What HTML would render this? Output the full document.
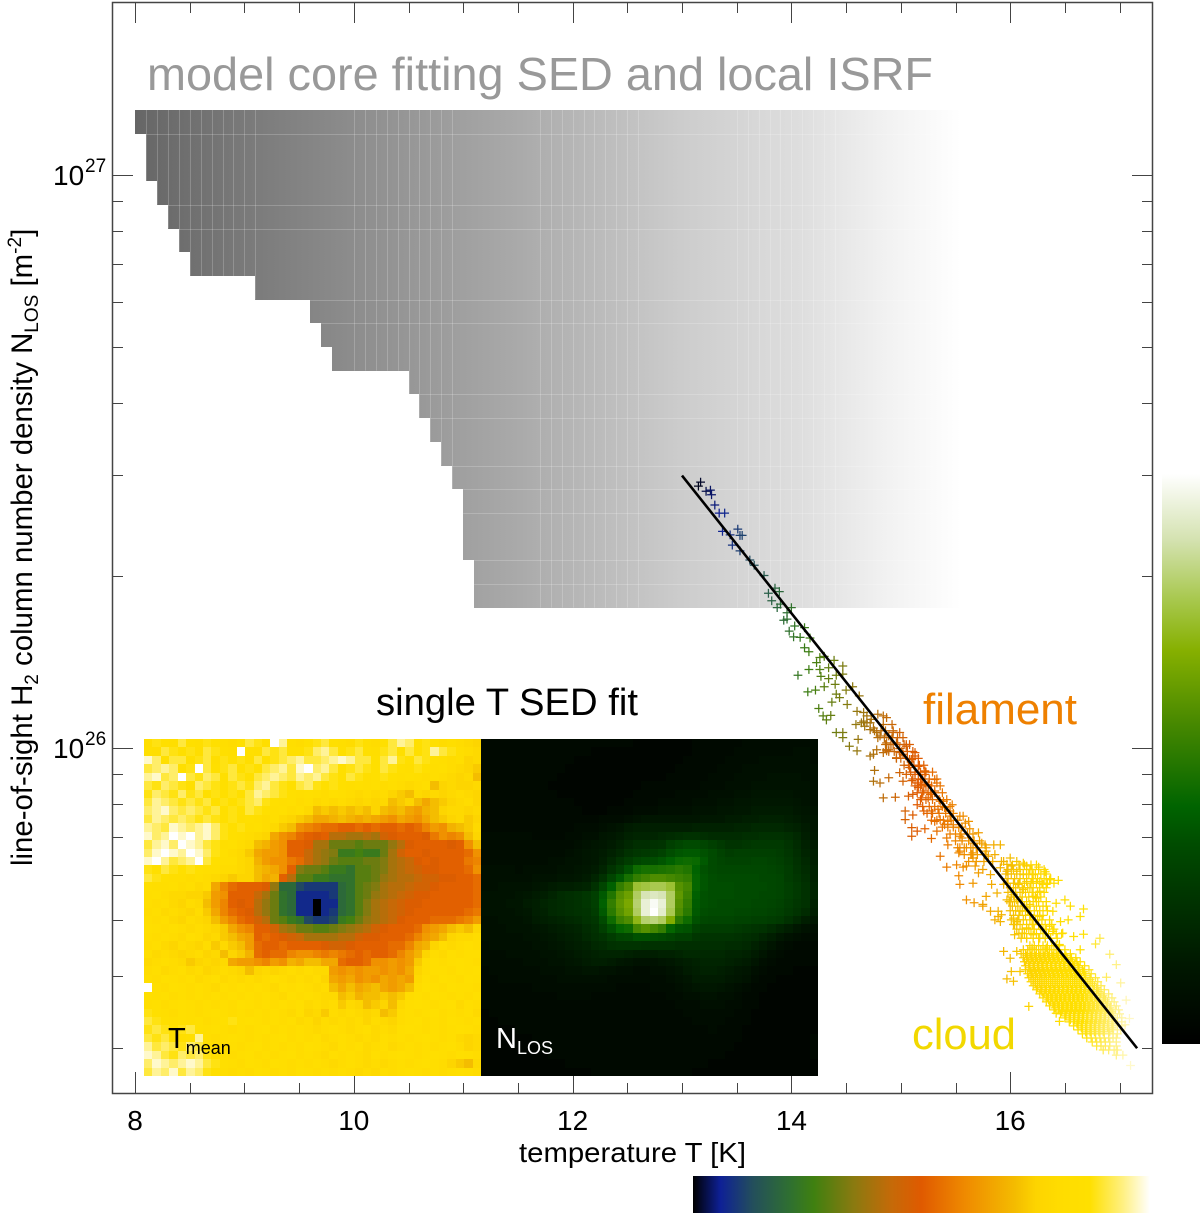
<!DOCTYPE html>
<html lang="en">
<head>
<meta charset="utf-8">
<title>Line-of-sight column density vs temperature</title>
<style>
html,body{margin:0;padding:0;background:#fff;}
svg{display:block;font-family:"Liberation Sans",Arial,sans-serif;}
</style>
</head>
<body>
<svg id="chart" width="1200" height="1215" viewBox="0 0 1200 1215" xmlns="http://www.w3.org/2000/svg">
  <defs id="defs">
    <linearGradient id="gray-ramp" gradientUnits="userSpaceOnUse" y1="0" y2="0"></linearGradient>
    <linearGradient id="t-ramp" x1="0" x2="1" y1="0" y2="0"></linearGradient>
    <linearGradient id="n-ramp" x1="0" x2="0" y1="1" y2="0"></linearGradient>
  </defs>
  <rect x="0" y="0" width="1200" height="1215" fill="#fff"/>
  <g id="model-grid"></g>
  <g id="seams"></g>
  <g id="axes"></g>
  <g id="points"></g>
  <g id="fit"></g>
  <g id="tmap"></g>
  <g id="nmap"></g>

  <text x="147" y="90" font-size="46.8" fill="#999" textLength="786" lengthAdjust="spacingAndGlyphs">model core fitting SED and local ISRF</text>
  <text x="376" y="715" font-size="38" fill="#000" textLength="262" lengthAdjust="spacingAndGlyphs">single T SED fit</text>
  <text x="923" y="724" font-size="44" fill="#ee8000" textLength="154" lengthAdjust="spacingAndGlyphs">filament</text>
  <text x="912" y="1049" font-size="44" fill="#f2d800" textLength="104" lengthAdjust="spacingAndGlyphs">cloud</text>
  <text x="168" y="1048" font-size="29" fill="#000">T<tspan font-size="18" dy="6">mean</tspan></text>
  <text x="496" y="1048" font-size="29" fill="#fff">N<tspan font-size="18" dy="6">LOS</tspan></text>
  <text x="519" y="1162" font-size="28" fill="#000" textLength="227" lengthAdjust="spacingAndGlyphs">temperature T [K]</text>
  <text transform="translate(32,866) rotate(-90)" font-size="29.4" fill="#000">line-of-sight H<tspan font-size="19" dy="6">2</tspan><tspan dy="-6"> column number density N</tspan><tspan font-size="19" dy="6">LOS</tspan><tspan dy="-6"> [m</tspan><tspan font-size="19" dy="-11">-2</tspan><tspan dy="11">]</tspan></text>

  <rect x="693" y="1176" width="457" height="37" fill="url(#t-ramp)"/>
  <rect x="1162" y="474" width="38" height="570" fill="url(#n-ramp)"/>
</svg>

<script>
const SVGNS = 'http://www.w3.org/2000/svg';

// Axis ticks
const xMajorTicks = [8, 10, 12, 14, 16];
const xTickLabels = ['8', '10', '12', '14', '16'];
const xMinorTicks = [8.5, 9, 9.5, 10.5, 11, 11.5, 12.5, 13, 13.5, 14.5, 15, 15.5, 16.5, 17];
const yMajorExponents = [27, 26];
const yMinorValues = [9e26, 8e26, 7e26, 6e26, 5e26, 4e26, 3e26, 2e26, 9e25, 8e25, 7e25, 6e25, 5e25, 4e25, 3e25];

// Model grid: row edges in log10(N), and lowest temperature populated in each row
const gridEdgesLogN = [27.1134, 27.0721, 27.0307, 26.9893, 26.9480, 26.9066, 26.8653, 26.8239, 26.7825, 26.7412, 26.6998, 26.6585, 26.6171, 26.5757, 26.5344, 26.4930, 26.4517, 26.4103, 26.3689, 26.3276, 26.2862, 26.2449];
const gridRowMinT = [8.0, 8.1, 8.1, 8.2, 8.3, 8.4, 8.5, 9.1, 9.6, 9.7, 9.8, 10.5, 10.6, 10.7, 10.8, 10.9, 11.0, 11.0, 11.0, 11.1, 11.1];
const gridMaxT = 15.6;
const grayRampT = [8, 11.52, 12.98, 14.1, 14.8, 15.55];
const grayRampLevel = [102, 170, 204, 222, 240, 255];
const seamT = [8.1, 8.2, 8.3, 8.4, 8.5, 8.6, 8.7, 8.8, 8.9, 9.0, 9.1, 10.0, 10.1, 10.2, 10.3, 10.4, 10.5, 10.6, 10.7, 10.8, 10.9, 11.7, 11.8, 11.9, 12.0, 12.1, 12.2, 12.3, 12.4, 12.5, 12.6, 13.5, 13.6, 13.7, 13.8, 13.9, 14.0, 14.1, 14.2, 14.3, 14.4];
const seamLogN = [27.0721, 26.9480, 26.9066, 26.7825, 26.7412, 26.6171, 26.5757, 26.4930, 26.4517, 26.4103, 26.3276, 26.2862];

// Colour scales
const tCmapPos = [0, 0.06, 0.13, 0.213, 0.264, 0.352, 0.434, 0.5, 0.595, 0.705, 0.75, 0.8, 0.868, 0.94, 1];
const tCmapColor = ['#000000', '#0e2096', '#234e5c', '#2f7030', '#3f8010', '#8a7a10', '#c56a08', '#e05a00', '#ef8a00', '#f4bc00', '#fdd400', '#ffdc00', '#ffe000', '#fff080', '#ffffff'];
const nCmapPos = [0, 0.14, 0.28, 0.35, 0.417, 0.568, 0.69, 0.78, 0.884, 1];
const nCmapColor = ['#000000', '#001800', '#003a00', '#004c00', '#006400', '#4a8a00', '#86b000', '#a8c84e', '#d4e2b0', '#ffffff'];
const tCmapMin = 13.1;
const tCmapMax = 17.2;

// Fit line
const fitT = [13.0, 17.16];
const fitLogN = [26.4755, 25.476];

// Scatter: core and dense-core part
const coreT = [13.17,13.15,13.22,13.26,13.27,13.30,13.34,13.39,13.37,13.51,
13.53,13.55,13.44,13.46,13.53,13.62,13.66,13.75,13.85,13.89,
13.79,13.82,13.87,13.90,14.00,13.96,13.93,13.96,14.03,14.12,
13.98,14.02,14.08,14.17,14.12,14.16,14.30,14.26,14.39,14.23,
14.47,14.16,14.26,14.34,14.06,14.27,14.34,14.47,14.41,14.30,
14.40,14.56,14.15,14.22,14.41,14.44,14.50,14.62,14.37,14.51,
14.25,14.36,14.29,14.32,14.60,14.69,14.72,14.79,14.87,14.59,
14.41,14.47,14.47,14.61,14.53,14.60,14.72,14.78,14.87,14.66,
14.67,14.73,14.75,14.84,14.92,14.93,14.99,14.96,15.05,14.99,
14.87,15.13,15.10,14.66,14.69,14.72,14.64,14.78,14.84,14.81,
14.89,14.89,14.84];
const coreLogN = [26.464,26.457,26.448,26.450,26.442,26.424,26.410,26.410,26.378,26.382,
26.371,26.371,26.372,26.354,26.344,26.328,26.319,26.301,26.279,26.273,
26.270,26.257,26.245,26.251,26.245,26.236,26.223,26.225,26.213,26.210,
26.204,26.194,26.193,26.192,26.175,26.168,26.160,26.158,26.153,26.149,
26.143,26.137,26.137,26.140,26.127,26.125,26.121,26.129,26.127,26.107,
26.111,26.107,26.098,26.101,26.094,26.088,26.101,26.091,26.080,26.076,
26.069,26.057,26.056,26.049,26.064,26.056,26.044,26.059,26.053,26.041,
26.027,26.027,26.018,26.015,26.003,25.995,25.986,25.997,26.009,26.047,
26.038,26.050,26.035,26.041,26.041,26.027,26.027,26.009,26.006,25.992,
25.997,25.992,25.980,26.062,26.044,26.032,26.044,26.027,26.056,26.021,
26.021,25.997,25.992];

// Scatter: filament part
const filamentT = [14.75,14.87,15.05,14.96,15.13,15.08,14.99,14.76,14.89,14.75,
14.81,15.02,15.10,14.84,14.95,15.07,15.22,15.19,15.33,15.28,
15.25,15.15,15.04,15.11,15.04,15.21,15.31,15.39,15.47,15.34,
15.43,15.57,15.62,15.10,15.22,15.15,15.10,15.33,15.28,15.42,
15.43,15.53,15.63,15.71,15.56,15.54,15.74,15.85,15.91,15.78,
15.66,15.53,15.36,15.42,15.51,15.57,15.68,15.53,15.54,15.66,
15.71,15.82,15.83,14.93,14.99,15.02,15.08,15.16,15.13,15.18,
15.22,15.16,15.21,15.27,15.31,15.25,15.31,15.22,15.36,15.40,
15.45,15.28,15.36,15.40,15.48,15.54,15.59,15.54,15.66,15.69,
15.60,15.77,15.80,15.66,15.60,15.75,15.54,15.65,15.15,15.05,
15.11,15.19,15.45,15.43,15.60,15.67,15.75];
const filamentLogN = [25.989,25.995,26.003,25.983,25.986,25.966,25.957,25.961,25.948,25.942,
25.939,25.942,25.943,25.913,25.914,25.916,25.954,25.936,25.939,25.922,
25.913,25.901,25.890,25.883,25.875,25.890,25.872,25.907,25.901,25.893,
25.872,25.881,25.872,25.861,25.859,25.855,25.846,25.855,25.842,25.843,
25.831,25.861,25.859,25.852,25.843,25.826,25.834,25.831,25.831,25.820,
25.817,25.817,25.811,25.792,25.796,25.792,25.794,25.777,25.762,25.764,
25.782,25.779,25.762,26.006,25.999,25.989,25.980,25.968,25.954,25.945,
25.939,25.931,25.925,25.919,25.925,25.936,25.945,25.960,25.907,25.896,
25.890,25.890,25.875,25.866,25.866,25.881,25.869,25.846,25.834,25.826,
25.826,25.831,25.811,25.808,25.794,25.788,25.820,25.814,25.939,25.954,
25.919,25.913,25.881,25.867,25.735,25.730,25.724];

// Scatter: dense filament body, one list of temperatures per log10(N) row
const filamentRowLogN = [26.030,26.018,26.006,25.994,25.982,25.970,25.958,25.946,25.934,25.922,25.910,25.898,25.886,25.874,25.862,25.850,25.838,25.826,25.814,25.802];
const filamentRowT = [
[14.76,14.82,14.86,14.93],
[14.79,14.85,14.92,14.97,15.02],
[14.86,14.91,14.97,15.03,15.08],
[14.89,14.94,15.01,15.06,15.11],
[14.96,15.00,15.06,15.11,15.16],
[15.03,15.07,15.12,15.17,15.21],
[15.09,15.13,15.18,15.23,15.29],
[15.11,15.16,15.20,15.26,15.33],
[15.13,15.18,15.23,15.28,15.36],
[15.15,15.20,15.25,15.31,15.38],
[15.18,15.23,15.29,15.35,15.42],
[15.20,15.26,15.31,15.38,15.45],
[15.24,15.29,15.35,15.41,15.48],
[15.28,15.33,15.39,15.46,15.52],
[15.38,15.43,15.48,15.56],
[15.45,15.50,15.55,15.61,15.66],
[15.50,15.56,15.62,15.67,15.72],
[15.52,15.58,15.64,15.70,15.78],
[15.58,15.64,15.70,15.77,15.86],
[15.62,15.69,15.76,15.84,15.92]
];

// Scatter: cloud outliers and sparse edges
const cloudT = [15.94,16.00,16.06,15.97,16.06,16.15,16.26,16.32,16.21,16.36,
16.44,16.15,16.30,16.07,15.94,15.78,15.88,16.00,15.82,15.89,
15.91,16.03,16.15,16.24,16.33,16.42,16.50,16.55,16.67,16.64,
16.53,16.46,16.36,16.15,16.03,16.04,16.15,16.27,16.48,16.58,
16.67,16.82,16.78,15.94,16.06,16.00,16.20,16.33,16.45,16.64,
16.01,15.97,16.03,16.09,16.17,16.42,16.45,15.91,15.97,16.01,
16.12,16.18,16.12,16.21,16.27,16.33,16.18,16.12,16.03,15.97,
16.06,16.21,16.27,16.18,16.09,16.18,16.27,16.39,16.06,16.21,
16.30,16.39,16.11,16.21,16.32,15.89,15.86,15.92,15.75,16.97,
17.06,17.09,17.05,16.97,17.03,17.10,16.98,17.01,16.91,16.88];
const cloudLogN = [25.802,25.808,25.802,25.785,25.785,25.794,25.792,25.784,25.779,25.770,
25.769,25.767,25.762,25.762,25.762,25.741,25.747,25.732,25.715,25.706,
25.697,25.703,25.721,25.738,25.724,25.729,25.735,25.724,25.719,25.706,
25.700,25.697,25.689,25.686,25.692,25.674,25.668,25.668,25.677,25.671,
25.675,25.668,25.658,25.645,25.645,25.633,25.651,25.651,25.657,25.648,
25.610,25.597,25.593,25.610,25.549,25.537,25.523,25.791,25.797,25.794,
25.799,25.788,25.779,25.767,25.767,25.762,25.756,25.753,25.744,25.735,
25.735,25.741,25.750,25.727,25.715,25.709,25.706,25.715,25.697,25.692,
25.683,25.680,25.677,25.674,25.668,25.715,25.700,25.709,25.727,25.622,
25.560,25.528,25.517,25.464,25.464,25.446,25.473,25.590,25.640,25.600];

// Scatter: upper cloud shoulder, one list of temperatures per log10(N) row
const shoulderRowLogN = [25.796,25.788,25.780,25.772,25.764,25.756,25.748,25.740,25.732,25.724,25.716,25.708,25.700,25.692,25.684,25.676,25.668];
const shoulderRowT = [
[16.02,16.08,16.13,16.19,16.24],
[15.98,16.03,16.09,16.15,16.20,16.26,16.31],
[15.96,16.01,16.06,16.12,16.17,16.23,16.28,16.33],
[15.98,16.04,16.09,16.15,16.20,16.25,16.31,16.37],
[15.97,16.03,16.08,16.13,16.19,16.24,16.29,16.34,16.40],
[16.00,16.05,16.11,16.16,16.21,16.27,16.33],
[15.98,16.03,16.09,16.14,16.20,16.25,16.31],
[16.01,16.06,16.11,16.17,16.23,16.28],
[15.99,16.04,16.10,16.15,16.21,16.26,16.33],
[16.02,16.07,16.13,16.18,16.24,16.30],
[16.00,16.05,16.11,16.16,16.22,16.27,16.34],
[16.03,16.08,16.14,16.19,16.25,16.30],
[16.01,16.07,16.12,16.18,16.23,16.29,16.36],
[16.04,16.09,16.15,16.20,16.26,16.32,16.38],
[16.06,16.11,16.17,16.22,16.28,16.33,16.40],
[16.08,16.13,16.19,16.24,16.30,16.35,16.42,16.47],
[16.10,16.15,16.21,16.26,16.32,16.37,16.43]
];

// Scatter: dense cloud body, one list of temperatures per log10(N) row
const blobRowLogN = [25.655,25.648,25.641,25.634,25.627,25.620,25.613,25.606,25.599,25.592,25.585,25.578,25.571,25.564,25.557,25.550,25.543,25.536,25.529,25.522,25.515,25.508,25.501,25.494,25.487,25.480,25.473];
const blobRowT = [
[16.18,16.22,16.26,16.30,16.34,16.38,16.42,16.45],
[16.12,16.16,16.20,16.24,16.28,16.32,16.36,16.40,16.44,16.50],
[16.10,16.14,16.18,16.22,16.26,16.30,16.34,16.38,16.42,16.46,16.50,16.55],
[16.12,16.16,16.20,16.24,16.28,16.32,16.36,16.40,16.44,16.48,16.52,16.56,16.60],
[16.13,16.17,16.21,16.25,16.29,16.33,16.37,16.41,16.45,16.49,16.53,16.57,16.61,16.64],
[16.14,16.18,16.22,16.26,16.30,16.34,16.38,16.42,16.46,16.50,16.54,16.58,16.62,16.68],
[16.14,16.18,16.22,16.26,16.30,16.34,16.38,16.42,16.46,16.50,16.54,16.58,16.62,16.66,16.72],
[16.16,16.20,16.24,16.28,16.32,16.36,16.40,16.44,16.48,16.52,16.56,16.60,16.64,16.68,16.74],
[16.17,16.21,16.25,16.29,16.33,16.37,16.41,16.45,16.49,16.53,16.57,16.61,16.65,16.69,16.73,16.78],
[16.19,16.23,16.27,16.31,16.35,16.39,16.43,16.47,16.51,16.55,16.59,16.63,16.67,16.71,16.75,16.80],
[16.21,16.25,16.29,16.33,16.37,16.41,16.45,16.49,16.53,16.57,16.61,16.65,16.69,16.73,16.77,16.83],
[16.24,16.28,16.32,16.36,16.40,16.44,16.48,16.52,16.56,16.60,16.64,16.68,16.72,16.76,16.80,16.86],
[16.27,16.31,16.35,16.39,16.43,16.47,16.51,16.55,16.59,16.63,16.67,16.71,16.75,16.79,16.83,16.90],
[16.30,16.34,16.38,16.42,16.46,16.50,16.54,16.58,16.62,16.66,16.70,16.74,16.78,16.82,16.86,16.93],
[16.33,16.37,16.41,16.45,16.49,16.53,16.57,16.61,16.65,16.69,16.73,16.77,16.81,16.85,16.89,16.95],
[16.36,16.40,16.44,16.48,16.52,16.56,16.60,16.64,16.68,16.72,16.76,16.80,16.84,16.88,16.92,16.97],
[16.40,16.44,16.48,16.52,16.56,16.60,16.64,16.68,16.72,16.76,16.80,16.84,16.88,16.92,16.96,16.99],
[16.46,16.50,16.54,16.58,16.62,16.66,16.70,16.74,16.78,16.82,16.86,16.90,16.94,17.00],
[16.50,16.54,16.58,16.62,16.66,16.70,16.74,16.78,16.82,16.86,16.90,16.94,16.98,17.02],
[16.54,16.58,16.62,16.66,16.70,16.74,16.78,16.82,16.86,16.90,16.94,16.98,17.02],
[16.58,16.62,16.66,16.70,16.74,16.78,16.82,16.86,16.90,16.94,16.98,17.02],
[16.62,16.66,16.70,16.74,16.78,16.82,16.86,16.90,16.94,16.98,17.01],
[16.66,16.70,16.74,16.78,16.82,16.86,16.90,16.94,16.98],
[16.70,16.74,16.78,16.82,16.86,16.90,16.94,16.97],
[16.75,16.79,16.83,16.87,16.91,16.97],
[16.79,16.83,16.87,16.91,16.97],
[16.85,16.90,16.95]
];

// Scatter: densest interior of the cloud body
const innerRowLogN = [25.6375,25.6305,25.6235,25.6165,25.6095,25.6025,25.5955,25.5885,25.5815,25.5745,25.5675,25.5605,25.5535,25.5465,25.5395,25.5325,25.5255,25.5185,25.5115,25.5045];
const innerRowT = [
[16.15,16.19,16.23,16.27,16.31,16.35,16.39,16.43,16.47,16.51],
[16.15,16.19,16.23,16.27,16.31,16.35,16.39,16.43,16.47,16.51,16.55],
[16.17,16.21,16.25,16.29,16.33,16.37,16.41,16.45,16.49,16.53,16.59],
[16.17,16.21,16.25,16.29,16.33,16.37,16.41,16.45,16.49,16.53,16.57,16.63],
[16.19,16.23,16.27,16.31,16.35,16.39,16.43,16.47,16.51,16.55,16.59,16.67],
[16.19,16.23,16.27,16.31,16.35,16.39,16.43,16.47,16.51,16.55,16.59,16.63,16.69],
[16.21,16.25,16.29,16.33,16.37,16.41,16.45,16.49,16.53,16.57,16.61,16.65,16.73],
[16.23,16.27,16.31,16.35,16.39,16.43,16.47,16.51,16.55,16.59,16.63,16.67,16.75],
[16.25,16.29,16.33,16.37,16.41,16.45,16.49,16.53,16.57,16.61,16.65,16.69,16.79],
[16.29,16.33,16.37,16.41,16.45,16.49,16.53,16.57,16.61,16.65,16.69,16.73,16.81],
[16.33,16.37,16.41,16.45,16.49,16.53,16.57,16.61,16.65,16.69,16.73,16.77,16.85],
[16.35,16.39,16.43,16.47,16.51,16.55,16.59,16.63,16.67,16.71,16.75,16.79,16.87],
[16.39,16.43,16.47,16.51,16.55,16.59,16.63,16.67,16.71,16.75,16.79,16.83,16.89],
[16.41,16.45,16.49,16.53,16.57,16.61,16.65,16.69,16.73,16.77,16.81,16.85,16.91],
[16.47,16.51,16.55,16.59,16.63,16.67,16.71,16.75,16.79,16.83,16.87,16.93],
[16.51,16.55,16.59,16.63,16.67,16.71,16.75,16.79,16.83,16.87,16.93],
[16.55,16.59,16.63,16.67,16.71,16.75,16.79,16.83,16.87,16.93],
[16.61,16.65,16.69,16.73,16.77,16.81,16.85,16.89,16.93],
[16.65,16.69,16.73,16.77,16.81,16.85,16.89,16.93],
[16.69,16.73,16.77,16.81,16.85,16.91]
];

// Mean-temperature map, in tenths of a kelvin
const tempMap = [
[165,167,166,165,168,166,165,167,166,165,164,166,168,167,165,172,170,165,164,166,167,168,166,165,164,167,165,164,166,168,170,169,166,167,166,164,165,164,163,162],
[166,165,168,167,166,167,165,168,167,166,165,172,166,165,168,167,168,166,166,167,169,170,168,166,167,168,166,165,167,168,166,168,166,167,170,168,167,165,164,163],
[171,169,166,168,168,166,167,168,165,167,166,167,165,168,166,167,168,169,170,168,168,169,170,171,170,168,168,166,168,170,167,166,168,167,166,165,164,165,162,163],
[168,169,170,169,166,167,172,168,166,167,168,166,167,166,168,169,170,168,171,172,169,170,168,166,167,168,167,166,168,167,166,165,167,166,165,166,164,163,162,161],
[170,171,168,169,172,168,167,169,168,166,168,167,166,168,169,170,169,168,170,169,170,168,167,166,168,167,165,166,167,166,165,166,165,164,165,164,163,162,163,160],
[168,167,169,168,167,166,169,168,167,166,167,168,167,169,170,168,167,166,168,169,167,166,167,166,165,166,165,166,164,165,164,163,164,165,160,162,163,162,162,163],
[167,169,168,167,169,167,168,166,167,166,167,166,168,170,169,168,167,166,165,166,165,164,166,165,164,163,164,163,164,162,161,160,163,162,163,162,163,164,163,162],
[168,170,169,168,167,168,167,168,166,167,166,167,168,169,167,166,165,166,164,165,163,164,163,164,163,162,163,162,163,160,161,162,160,158,160,161,162,163,164,162],
[169,170,171,169,168,169,168,167,168,166,167,166,168,167,166,165,166,164,165,163,160,161,160,161,160,161,160,162,160,159,160,158,157,159,160,162,163,163,162,163],
[168,170,169,168,169,168,167,168,167,166,167,165,166,165,164,165,163,162,161,160,158,158,159,160,159,158,159,158,157,156,158,157,156,158,160,161,162,163,161,162],
[170,169,168,171,170,169,170,171,169,167,166,167,165,166,164,163,161,160,156,155,154,153,153,152,152,153,152,153,152,152,153,152,153,155,157,156,159,160,161,163],
[171,169,170,172,171,172,170,171,169,167,166,165,164,163,162,158,156,155,153,152,151,152,148,148,147,147,148,147,150,151,152,152,152,151,154,156,155,156,160,162],
[168,170,171,169,172,171,170,168,167,165,166,164,163,160,159,157,156,152,152,151,147,147,144,144,144,143,144,144,144,146,148,151,152,152,152,152,151,152,156,160],
[169,171,172,171,170,172,171,169,167,166,164,163,161,158,157,157,156,152,152,149,147,146,145,141,141,142,141,141,144,147,150,152,152,151,152,152,152,152,153,156],
[171,172,170,168,169,170,172,168,166,165,165,163,162,159,157,156,156,154,153,149,147,146,144,143,143,143,144,144,145,147,148,149,151,152,151,152,152,152,154,155],
[167,166,168,167,166,167,166,165,165,164,164,163,162,160,159,158,156,152,145,144,144,143,141,141,140,143,143,144,145,147,148,149,150,151,151,152,152,152,153,156],
[168,167,166,165,165,164,165,164,163,162,161,162,162,160,158,159,152,148,143,143,141,141,140,140,140,143,143,144,146,147,148,148,149,150,150,151,151,152,152,153],
[166,165,165,166,164,165,163,164,158,155,153,152,152,152,151,146,139,139,136,135,135,135,135,139,140,143,144,145,147,148,148,149,150,150,151,152,152,152,152,153],
[165,166,164,163,163,162,162,161,157,156,152,152,152,149,147,144,140,139,134,134,134,134,135,139,140,143,144,146,147,148,149,150,151,151,152,152,152,152,152,153],
[165,164,165,163,162,164,163,160,157,155,152,151,152,148,146,144,140,139,134,134,131,134,134,139,140,143,145,147,148,149,150,151,151,152,152,152,152,152,152,153],
[164,165,163,164,163,162,164,161,158,155,153,152,151,148,146,144,140,139,134,134,131,134,135,139,140,143,145,147,148,149,150,151,152,152,152,152,152,152,153,154],
[165,164,165,163,162,164,163,162,160,157,155,153,152,150,148,144,143,141,140,136,135,135,136,141,142,144,146,147,148,149,151,152,152,152,153,153,153,154,155,157],
[166,165,164,165,164,163,164,163,162,161,158,156,155,152,152,150,147,146,144,144,143,143,144,145,146,147,148,150,151,152,152,152,153,156,157,158,160,161,160,162],
[165,164,165,164,163,165,164,162,163,161,160,158,157,152,153,152,151,150,149,147,147,147,147,148,148,150,151,151,152,152,152,153,155,157,158,160,162,163,163,164],
[164,165,163,162,164,163,162,164,161,163,161,160,157,153,152,152,153,152,152,152,152,151,150,150,151,152,152,152,152,153,153,155,158,159,162,164,163,164,165,164],
[165,163,164,163,162,163,164,162,163,160,162,161,159,153,152,153,153,155,156,156,155,154,155,154,153,152,153,152,152,153,155,157,159,162,164,163,165,164,165,165],
[163,164,165,164,163,161,162,163,162,163,158,157,157,156,155,157,156,159,158,160,160,158,158,153,152,152,153,156,156,157,156,157,161,164,165,164,165,166,165,164],
[164,165,163,164,165,163,164,162,163,164,163,162,160,162,163,162,163,164,163,164,163,163,157,156,157,156,157,157,156,157,156,158,162,164,165,165,164,166,165,166],
[165,164,166,165,164,165,163,164,165,163,164,163,164,163,164,165,164,163,164,163,164,162,158,157,158,156,157,156,158,157,158,157,163,165,164,166,165,164,166,165],
[172,165,164,166,165,164,165,164,163,165,164,165,164,165,164,163,165,164,165,164,163,164,160,158,160,158,159,160,158,157,158,160,164,166,165,164,166,165,165,164],
[166,165,166,164,165,164,165,164,165,164,165,164,165,164,165,164,163,165,164,165,164,163,163,160,161,159,160,160,161,160,161,164,165,164,166,165,164,165,164,166],
[165,166,164,165,166,165,164,165,164,165,164,166,165,164,165,164,165,164,165,163,164,163,164,161,163,162,160,161,162,160,163,165,166,165,164,165,166,163,165,164],
[167,166,165,164,166,165,164,165,166,165,164,165,164,165,164,165,164,163,165,162,163,161,164,163,164,163,162,163,160,161,164,165,164,165,166,164,165,164,165,163],
[168,167,166,165,166,165,166,164,165,166,167,165,166,165,164,165,164,165,163,164,162,164,163,164,163,164,162,164,163,162,164,165,166,164,165,164,166,165,164,165],
[167,168,167,166,167,168,166,165,166,165,164,165,164,165,166,164,165,164,165,164,163,164,165,164,163,164,165,163,164,163,165,166,165,164,165,164,165,166,165,164],
[168,167,168,166,165,166,170,165,164,165,166,165,164,165,164,165,166,164,165,164,165,163,164,165,164,163,164,163,165,164,165,164,165,166,165,164,165,163,162,163],
[170,168,169,168,167,169,168,166,165,164,165,164,165,166,164,165,164,165,164,166,165,164,163,165,164,165,163,164,165,163,164,165,164,165,164,165,166,164,162,163],
[171,170,168,167,169,168,169,167,165,166,164,165,166,164,165,164,165,166,164,165,164,163,165,164,165,164,163,165,164,165,166,165,164,165,166,165,164,166,165,164],
[169,171,170,169,170,171,170,168,167,166,165,164,166,165,164,166,165,164,165,164,165,164,163,164,165,164,163,164,163,164,165,164,165,166,165,164,162,161,160,163],
[168,170,169,171,168,170,169,167,166,165,164,165,164,166,165,164,165,164,166,165,164,165,164,165,164,163,164,163,165,164,165,166,165,164,165,164,165,166,165,164]
];

// Column-density map, as percent of the colour-bar range before the display stretch
const densityMap = [
[2,2,2,2,2,2,2,2,2,2,2,2,2,2,2,2,2,2,1,1,1,1,1,1,1,2,2,2,2,2,2,3,3,3,3,3,3,3,3,3],
[2,2,2,2,2,2,2,2,2,2,2,2,2,1,1,1,1,1,1,1,1,1,1,1,1,2,2,2,2,2,3,3,3,3,3,3,3,4,4,3],
[2,2,2,2,2,2,2,2,2,2,2,1,1,1,1,1,1,1,1,1,1,1,1,1,2,2,2,2,2,3,3,3,3,4,4,4,4,4,4,3],
[2,2,2,2,2,2,2,2,2,2,1,1,1,1,1,1,1,1,1,1,1,1,1,2,2,2,2,2,3,3,3,4,4,4,4,4,4,4,4,4],
[2,2,2,2,2,2,2,2,2,1,1,1,1,1,1,1,1,1,1,1,1,1,2,2,2,2,2,3,3,3,4,4,4,4,5,5,5,5,4,4],
[2,2,2,2,2,2,2,2,1,1,1,1,1,1,1,1,1,1,1,2,2,2,2,2,2,2,3,3,3,4,4,4,5,5,5,5,5,5,5,4],
[2,2,2,2,2,2,2,2,2,1,1,1,1,1,1,1,1,1,2,2,2,2,2,3,3,3,3,4,4,4,5,5,6,6,6,6,6,5,5,4],
[2,2,2,2,2,2,2,2,2,2,2,1,1,1,1,1,1,2,2,2,2,3,3,3,3,4,4,4,5,5,6,6,7,7,7,7,7,6,5,4],
[2,2,2,2,2,2,2,2,2,2,2,2,1,1,1,2,2,2,3,3,3,4,4,4,4,5,5,5,6,6,7,7,8,8,8,8,8,7,6,5],
[2,2,2,2,2,2,2,2,2,2,2,2,2,2,3,3,3,4,5,6,6,6,6,6,6,6,7,7,7,8,8,9,9,10,10,10,9,8,7,6],
[2,2,2,2,2,2,2,2,2,2,2,3,3,3,4,5,6,8,9,9,9,9,9,9,9,10,10,10,10,10,11,11,12,12,12,12,11,10,8,6],
[3,3,3,3,3,3,2,2,2,2,3,3,4,4,6,7,8,10,11,11,11,12,13,14,15,15,14,13,13,13,13,14,14,15,15,15,14,12,9,7],
[3,3,3,3,3,3,3,3,3,3,3,4,5,6,7,8,10,12,14,14,15,16,20,22,24,24,22,20,18,16,16,17,18,18,18,18,16,13,10,8],
[3,3,3,3,3,3,3,3,3,3,4,5,6,7,8,10,12,15,17,18,19,21,25,27,28,28,26,24,21,19,20,20,20,20,20,19,17,14,11,9],
[3,3,3,3,3,3,3,3,4,4,5,5,6,7,9,12,16,19,22,24,25,27,30,33,34,33,28,24,22,21,21,21,22,22,21,20,18,15,12,9],
[4,4,4,4,3,4,4,4,4,5,5,6,7,8,11,16,20,26,34,36,36,37,38,40,38,31,26,24,23,23,23,23,23,23,22,21,19,16,13,10],
[4,4,4,4,4,4,5,5,5,6,6,7,8,11,15,22,28,36,42,45,48,48,46,44,42,32,27,25,24,24,24,24,24,23,23,22,19,17,14,10],
[4,4,5,5,5,5,6,7,8,9,9,10,11,15,22,30,42,48,68,70,72,72,68,50,46,32,27,25,25,25,24,24,24,24,23,22,20,18,15,11],
[5,5,5,5,6,7,8,9,11,13,14,15,17,20,28,38,50,55,74,86,88,86,74,52,44,30,26,25,25,25,24,24,24,23,23,22,20,18,15,11],
[5,5,5,6,6,8,9,11,12,13,14,15,17,20,30,42,52,58,76,92,98,92,74,50,42,29,26,25,24,24,24,24,23,23,22,21,19,17,15,10],
[5,5,5,5,6,7,9,10,12,13,14,15,16,19,28,40,50,56,74,92,100,90,72,48,40,28,25,24,24,24,23,23,22,22,21,20,18,16,13,9],
[4,4,5,5,5,6,8,9,10,11,12,13,15,17,24,34,44,48,64,76,78,74,60,40,34,26,23,22,22,22,21,21,20,20,19,18,15,12,9,7],
[4,4,4,5,5,5,6,7,8,9,10,11,13,15,20,26,32,34,46,50,46,42,32,27,26,21,19,19,19,19,18,17,16,15,13,11,9,7,5,4],
[4,4,4,4,4,5,5,6,7,8,9,10,12,14,16,19,22,23,26,26,25,24,22,20,20,17,16,16,16,16,15,14,13,11,9,7,5,4,3,3],
[3,4,4,4,4,4,5,5,6,7,8,9,10,12,13,15,16,16,16,15,15,15,15,14,14,14,14,14,14,13,13,12,10,8,6,4,3,2,2,2],
[3,3,3,4,4,4,4,5,5,6,7,8,9,10,11,11,11,10,9,9,9,10,10,11,12,12,12,12,12,11,11,10,8,6,4,3,2,2,2,2],
[3,3,3,3,3,4,4,4,5,5,6,7,8,9,9,8,7,6,5,5,5,6,7,8,9,10,11,11,11,10,9,8,6,4,3,2,2,2,2,2],
[2,3,3,3,3,3,3,4,4,4,5,5,6,6,5,5,4,4,3,3,4,4,5,6,8,9,10,10,9,8,7,6,4,3,2,2,2,1,1,1],
[2,2,3,3,3,3,3,3,3,4,4,4,4,4,4,3,3,3,3,3,3,3,4,5,6,8,8,8,8,7,6,5,3,2,2,1,1,1,1,1],
[2,2,2,2,2,2,3,3,3,3,3,3,3,3,3,3,2,2,2,2,3,3,3,4,5,6,7,7,6,5,4,3,2,2,1,1,1,1,1,1],
[2,2,2,2,2,2,2,2,2,3,3,3,3,2,2,2,2,2,2,2,2,2,3,3,4,4,5,5,4,4,3,2,2,1,1,1,1,1,1,1],
[2,2,2,2,2,2,2,2,2,2,2,2,2,2,2,2,2,2,2,2,2,2,2,3,3,3,4,4,4,3,3,2,2,1,1,1,1,1,1,1],
[1,2,2,2,2,2,2,2,2,2,2,2,2,2,2,2,2,2,2,2,2,2,2,2,3,3,3,3,3,3,2,2,1,1,1,1,1,1,1,1],
[1,1,2,2,2,2,2,2,2,2,2,2,2,2,2,2,2,2,2,2,2,2,2,2,2,3,3,3,3,2,2,2,1,1,1,1,1,1,1,1],
[1,1,1,1,2,2,2,2,2,2,2,2,2,2,2,2,2,2,2,2,2,2,2,2,2,2,2,3,2,2,2,1,1,1,1,1,1,1,1,1],
[1,1,1,1,1,1,2,2,2,2,2,2,2,2,2,2,2,2,2,2,2,2,2,2,2,2,2,2,2,2,2,1,1,1,1,1,1,1,1,2],
[1,1,1,1,1,1,1,2,2,2,2,2,2,2,2,2,2,2,2,2,2,2,2,2,2,2,2,2,2,2,1,1,1,1,1,1,1,1,1,2],
[1,1,1,1,1,1,1,1,2,2,2,2,2,2,2,2,2,2,2,2,2,2,2,2,2,2,2,2,2,1,1,1,1,1,1,1,1,1,1,2],
[1,1,1,1,1,1,1,1,1,1,2,2,2,2,2,2,2,2,2,2,2,2,2,2,2,2,2,1,1,1,1,1,1,1,1,1,1,1,1,1],
[1,1,1,1,1,1,1,1,1,1,1,1,1,2,2,2,2,2,2,2,2,2,2,2,2,1,1,1,1,1,1,1,1,1,1,1,1,1,1,1]
];

// Axis functions
function xOf(T) { return 135 + (T - 8) * 109.4; }
function yOf(logN) { return 748 - (logN - 26) * 573; }

function hexToRgb(h) {
  return [parseInt(h.slice(1, 3), 16), parseInt(h.slice(3, 5), 16), parseInt(h.slice(5, 7), 16)];
}
function sampleCmap(pos, colors, f) {
  f = Math.max(0, Math.min(1, f));
  for (let i = 1; i < pos.length; i++) {
    if (f <= pos[i]) {
      const u = (f - pos[i - 1]) / (pos[i] - pos[i - 1]);
      const a = hexToRgb(colors[i - 1]);
      const b = hexToRgb(colors[i]);
      return 'rgb(' + Math.round(a[0] + (b[0] - a[0]) * u) + ',' + Math.round(a[1] + (b[1] - a[1]) * u) + ',' + Math.round(a[2] + (b[2] - a[2]) * u) + ')';
    }
  }
  return colors[colors.length - 1];
}
function tempColor(T) { return sampleCmap(tCmapPos, tCmapColor, (T - tCmapMin) / (tCmapMax - tCmapMin)); }
function densityColor(v) { return sampleCmap(nCmapPos, nCmapColor, Math.pow(v / 100, 0.75)); }
function make(tag, attrs, parent) {
  const el = document.createElementNS(SVGNS, tag);
  for (const k in attrs) el.setAttribute(k, attrs[k]);
  parent.appendChild(el);
  return el;
}
function addStops(gradient, pos, colors) {
  pos.forEach(function (p, i) {
    make('stop', { offset: p, 'stop-color': colors[i] }, gradient);
  });
}

// Gradients
addStops(document.getElementById('t-ramp'), tCmapPos, tCmapColor);
addStops(document.getElementById('n-ramp'), nCmapPos, nCmapColor);
const grayRamp = document.getElementById('gray-ramp');
grayRamp.setAttribute('x1', xOf(grayRampT[0]));
grayRamp.setAttribute('x2', xOf(grayRampT[grayRampT.length - 1]));
addStops(grayRamp,
  grayRampT.map(function (t) { return (t - grayRampT[0]) / (grayRampT[grayRampT.length - 1] - grayRampT[0]); }),
  grayRampLevel.map(function (g) { const s = g.toString(16).padStart(2, '0'); return '#' + s + s + s; }));

// Model grid cells
const gridGroup = document.getElementById('model-grid');
gridRowMinT.forEach(function (minT, r) {
  const y0 = Math.round(yOf(gridEdgesLogN[r]));
  const y1 = Math.round(yOf(gridEdgesLogN[r + 1]));
  const startCol = Math.round((minT - 8) * 10);
  const endCol = Math.round((gridMaxT - 8) * 10);
  for (let c = startCol; c < endCol; c++) {
    const x0 = Math.round(xOf(8 + c / 10));
    const x1 = Math.round(xOf(8 + (c + 1) / 10));
    const cell = make('rect', { x: x0, y: y0, width: x1 - x0, height: y1 - y0, fill: 'url(#gray-ramp)', 'shape-rendering': 'crispEdges' }, gridGroup);
    
    
  }
});

// Grid seams
const seamGroup = document.getElementById('seams');
seamT.forEach(function (T) {
  let last = 0;
  gridRowMinT.forEach(function (minT, r) { if (minT <= T) last = r; });
  const x = Math.round(xOf(T)) + 0.5;
  const seam = make('line', { x1: x, x2: x, y1: yOf(gridEdgesLogN[0]), y2: yOf(gridEdgesLogN[last + 1]), stroke: '#fff', 'stroke-opacity': 0.2, 'stroke-width': 1 }, seamGroup);
  
  
});
seamLogN.forEach(function (logN) {
  const idx = gridEdgesLogN.indexOf(logN);
  const y = Math.round(yOf(logN)) + 0.5;
  const seam = make('line', { x1: xOf(gridRowMinT[idx]), x2: xOf(gridMaxT - 0.3), y1: y, y2: y, stroke: '#fff', 'stroke-opacity': 0.2, 'stroke-width': 1 }, seamGroup);
  
  
});

// Axes
const axesGroup = document.getElementById('axes');
const frame = make('rect', { x: 112.5, y: 2.5, width: 1040, height: 1091, fill: 'none', stroke: '#444', 'stroke-width': 1.5 }, axesGroup);


function tick(x1, y1, x2, y2) {
  const t = make('line', { x1: x1, y1: y1, x2: x2, y2: y2, stroke: '#444', 'stroke-width': 1 }, axesGroup);
  
  
}
xMajorTicks.forEach(function (T, i) {
  const x = Math.round(xOf(T)) + 0.5;
  tick(x, 1093, x, 1072);
  tick(x, 2, x, 23);
  const label = make('text', { x: xOf(T), y: 1130, 'font-size': 28, 'text-anchor': 'middle', fill: '#000' }, axesGroup);
  label.textContent = xTickLabels[i];
  
  
});
xMinorTicks.forEach(function (T) {
  const x = Math.round(xOf(T)) + 0.5;
  tick(x, 1093, x, 1083);
  tick(x, 2, x, 13);
});
yMajorExponents.forEach(function (e) {
  const y = Math.round(yOf(e)) + 0.5;
  tick(113, y, 133, y);
  tick(1152, y, 1132, y);
  const label = make('text', { x: 53, y: yOf(e) + 10, 'font-size': 28, fill: '#000' }, axesGroup);
  label.textContent = '10';
  
  
  const sup = make('text', { x: 85, y: yOf(e) - 3, 'font-size': 19, fill: '#000' }, axesGroup);
  sup.textContent = String(e);
  
  
});
yMinorValues.forEach(function (v) {
  const y = Math.round(yOf(Math.log10(v))) + 0.5;
  tick(113, y, 123, y);
  tick(1152, y, 1142, y);
});

// Scatter points
const pointsGroup = document.getElementById('points');
function drawPoint(T, logN) {
  const x = xOf(T);
  const y = yOf(logN);
  const p = make('path', { d: 'M' + (x - 4.4) + ' ' + y + 'H' + (x + 4.4) + 'M' + x + ' ' + (y - 4.4) + 'V' + (y + 4.4), fill: 'none', stroke: tempColor(T), 'stroke-width': 1.25 }, pointsGroup);
  
  
}
coreT.forEach(function (T, i) { drawPoint(T, coreLogN[i]); });
filamentT.forEach(function (T, i) { drawPoint(T, filamentLogN[i]); });
cloudT.forEach(function (T, i) { drawPoint(T, cloudLogN[i]); });
filamentRowT.forEach(function (row, r) {
  row.forEach(function (T) { drawPoint(T, filamentRowLogN[r]); });
});
shoulderRowT.forEach(function (row, r) {
  row.forEach(function (T) { drawPoint(T, shoulderRowLogN[r]); });
});
blobRowT.forEach(function (row, r) {
  row.forEach(function (T) { drawPoint(T, blobRowLogN[r]); });
});
innerRowT.forEach(function (row, r) {
  row.forEach(function (T) { drawPoint(T, innerRowLogN[r]); });
});

// Fit line
const fitLine = make('line', { x1: xOf(fitT[0]), y1: yOf(fitLogN[0]), x2: xOf(fitT[1]), y2: yOf(fitLogN[1]), stroke: '#000', 'stroke-width': 2.6 }, document.getElementById('fit'));



// Maps
function drawMap(group, matrix, left, top, size, colorFn, name) {
  const n = matrix.length;
  const cell = size / n;
  matrix.forEach(function (row, j) {
    row.forEach(function (v, i) {
      const x0 = Math.round(left + i * cell);
      const x1 = Math.round(left + (i + 1) * cell);
      const y0 = Math.round(top + j * cell);
      const y1 = Math.round(top + (j + 1) * cell);
      const c = make('rect', { x: x0, y: y0, width: x1 - x0, height: y1 - y0, fill: colorFn(v), 'shape-rendering': 'crispEdges' }, group);
      
      
    });
  });
}
drawMap(document.getElementById('tmap'), tempMap, 144, 739, 337, function (v) { return tempColor(v / 10); }, 'temperature-map-cell');
drawMap(document.getElementById('nmap'), densityMap, 481, 739, 337, densityColor, 'density-map-cell');
</script>
</body>
</html>
